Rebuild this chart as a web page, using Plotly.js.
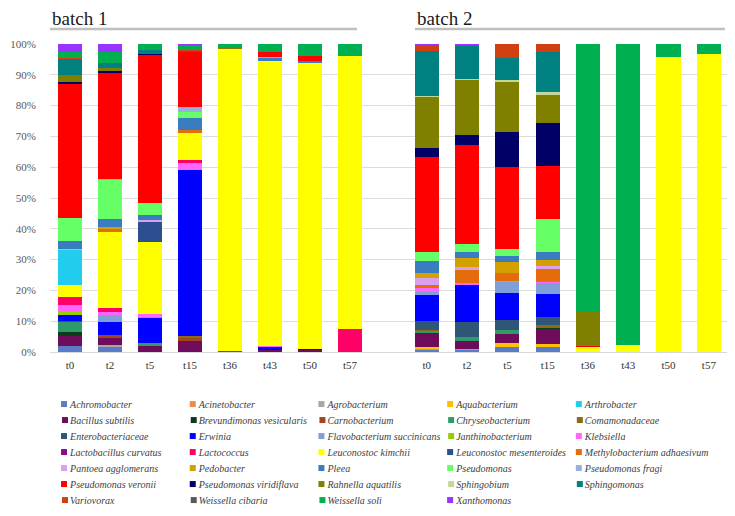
<!DOCTYPE html>
<html><head><meta charset="utf-8">
<script src="https://cdn.plot.ly/plotly-3.0.1.min.js"></script>
<style>html,body{margin:0;padding:0;background:#fff}#chart{width:735px;height:516px}</style>
</head><body><div id="chart"></div>
<script>
// ---- data ----
const timepoints = ['t0','t2','t5','t15','t36','t43','t50','t57'];
const batchNames = ['batch 1','batch 2'];
const speciesNames = ['Achromobacter','Acinetobacter','Agrobacterium','Aquabacterium','Arthrobacter',
 'Bacillus subtilis','Brevundimonas vesicularis','Carnobacterium','Chryseobacterium','Comamonadaceae',
 'Enterobacteriaceae','Erwinia','Flavobacterium succinicans','Janthinobacterium','Klebsiella',
 'Lactobacillus curvatus','Lactococcus','Leuconostoc kimchii','Leuconostoc mesenteroides','Methylobacterium adhaesivum',
 'Pantoea agglomerans','Pedobacter','Pleea','Pseudomonas','Pseudomonas fragi',
 'Pseudomonas veronii','Pseudomonas viridiflava','Rahnella aquatilis','Sphingobium','Sphingomonas',
 'Variovorax','Weissella cibaria','Weissella soli','Xanthomonas'];
const speciesColors = ['#5a7bc6','#f08a4b','#a6a6a6','#ffc000','#22ccee',
 '#6e0b5a','#0d3b1c','#a0461a','#2e9b6b','#8b6b16',
 '#2f5577','#0000ff','#7f9fd6','#99cc00','#ff66ff',
 '#8b0a8b','#ff0066','#ffff00','#2e4f8f','#e46c0a',
 '#d9a0f0','#d4a000','#3a7cc0','#66ff66','#9aaee0',
 '#ff0000','#000066','#808000','#c4d79b','#008080',
 '#d04010','#595959','#00b050','#9933ff'];

// each array: first 8 values = batch 1 (t0..t57), last 8 = batch 2 (t0..t57), in %
const achromobacter   = [2.0,1.6,0,0,0,0,0,0,        0.5,0.5,1.6,1.6,0,0,0,0];
const acinetobacter   = [0,0,0,0,0,0,0,0,            0.5,0.6,0,0,0,0,0,0];
const agrobacterium   = [0,0.6,0,0,0,0,0,0,          0,0,0,0,0,0,0,0];
const aquabacterium   = [0,0,0,0,0,0,0,0,            0.5,0,1.3,1.1,0,0,0,0];
const arthrobacter    = [11.5,0,0,0,0,0,0,0,         0,0,0,0,0,0,0,0];
const bacillus        = [3.3,2.3,2.1,3.7,0,0.5,0.5,0, 4.6,2.4,3.1,4.6,0,0,0,0];
const brevundimonas   = [1.3,0,0,0,0,0,0,0,          0,0,0,0.5,0,0,0,0];
const carnobacterium  = [0,1.0,0,1.0,0,0,0,0,        0,0,0,0,0,0,0,0];
const chryseobacterium= [3.0,0,0.8,0,0,0,0,0,        0.6,1.4,1.0,0,0,0,0,0];
const comamonadaceae  = [0,0,0,0.6,0,0,0,0,          0.5,0,0,1.0,0,0,0,0];
const enterobacteriaceae = [0.4,0,0,0,0,0,0,0,       2.8,4.8,3.3,2.4,0,0,0,0];
const erwinia         = [2.0,4.3,8.0,53.7,0,1.0,0.5,0, 8.5,12.0,9.0,7.5,0,0,0,0];
const flavobacterium  = [0,2.3,0.4,0,0,0,0,0,        1.1,0,3.3,3.5,0,0,0,0];
const janthinobacterium = [1.0,0,0,0,0,0,0,0,        0,0,0,0,0,0,0,0];
const klebsiella      = [2.3,1.0,0.9,2.5,0,0.4,0,0,  1.1,0.6,0.5,0.6,0,0,0,0];
const lactobacillus   = [0,0,0,0,0,0,0,0,            0,0,0,0,0,0,0,0];
const lactococcus     = [2.6,1.3,0,0.8,0.3,0,0,7.4,  0,0,0,0,0,0,0,0];
const leucKimchii     = [3.7,24.8,23.6,8.8,98.0,92.6,92.7,88.6, 0,0,0,0,1.6,2.2,95.9,96.7];
const leucMesenteroides = [0,0,6.4,0,0,0,0,0,        0,0,0,0,0,0,0,0];
const methylobacterium= [0,1.0,0,0.9,0,0,0,0,        1.1,4.2,2.7,4.0,0,0,0,0];
const pantoea         = [0.5,0,0.8,0,0,0,0,0,        2.2,1.1,0,1.1,0,0,0,0];
const pedobacter      = [0,0.6,0,0,0,0,0,0,          1.6,2.8,3.3,2.0,0,0,0,0];
const pleea           = [2.3,2.7,1.5,3.9,0,0.8,0.8,0, 4.1,2.2,2.0,2.6,0,0,0,0];
const pseudomonas     = [7.6,12.5,3.8,1.9,0,0,0,0,   2.8,2.5,2.4,10.6,0,0,0,0];
const psFragi         = [0,0.5,0,1.8,0,0.6,0,0,      0,0,0,0,0,0,0,0];
const psVeronii       = [43.5,34.4,48.1,17.7,0,1.4,1.7,0, 30.8,32.2,26.7,17.1,0.5,0,0,0];
const psViridiflava   = [0.8,0.9,0.5,0,0,0,0,0,      3.0,3.3,11.3,14.0,0,0,0,0];
const rahnella        = [2.2,0.9,0,0,0.3,0,0,0,      16.5,17.6,16.2,9.0,11.0,0,0,0];
const sphingobium     = [0,0,0,0,0,0,0,0,            0.4,0.4,0.8,1.1,0,0,0,0];
const sphingomonas    = [5.0,1.5,1.2,0.3,0,0,0,0,    14.8,10.8,6.9,13.0,0,0,0,0];
const variovorax      = [0.6,0,0,0.5,0,0,0,0,        1.8,0.3,4.7,2.5,0,0,0,0];
const wCibaria        = [0,0,0,0,0,0,0,0,            0,0,0,0,0,0,0,0];
const wSoli           = [1.9,3.6,1.9,1.6,1.4,2.7,3.8,4.0, 0,0,0,0,86.9,97.8,4.1,3.3];
const xanthomonas     = [2.5,2.7,0,0.3,0,0,0,0,      0.4,0.3,0,0,0,0,0,0];

const speciesValues = [achromobacter,acinetobacter,agrobacterium,aquabacterium,arthrobacter,
 bacillus,brevundimonas,carnobacterium,chryseobacterium,comamonadaceae,
 enterobacteriaceae,erwinia,flavobacterium,janthinobacterium,klebsiella,
 lactobacillus,lactococcus,leucKimchii,leucMesenteroides,methylobacterium,
 pantoea,pedobacter,pleea,pseudomonas,psFragi,
 psVeronii,psViridiflava,rahnella,sphingobium,sphingomonas,
 variovorax,wCibaria,wSoli,xanthomonas];

// stacking order (bottom to top) as seen in the picture
const stackOrder = [0,1,2,3,5,6,7,8,9,10,11,12,13,14,15,16,17,4,18,19,20,21,22,23,24,25,26,27,28,29,30,31,32,33];

// ---- traces ----
const traces = [];
stackOrder.forEach(function(k){
  for (let b = 0; b < 2; b++) {
    traces.push({
      type:'bar',
      x: timepoints,
      y: speciesValues[k].slice(b*8, b*8+8),
      xaxis: b ? 'x2' : 'x',
      yaxis: b ? 'y2' : 'y',
      name: speciesNames[k],
      legendgroup: speciesNames[k],
      legendrank: k + 1,
      showlegend: b === 0,
      marker: {color: speciesColors[k], line:{width:0}},
      hoverinfo: 'none'
    });
  }
});

const serif = '"Liberation Serif", "Times New Roman", Times, serif';
const layout = {
  width:735, height:516,
  margin:{l:50, r:8, t:44, b:164, autoexpand:false},
  barmode:'stack', barnorm:'percent', bargap:0.4,
  paper_bgcolor:'#ffffff', plot_bgcolor:'rgba(0,0,0,0)',
  font:{family:serif, color:'#404040'},
  xaxis:{domain:[0,0.4727], range:[-0.5,7.5], type:'category', showline:true, linecolor:'#d9d9d9',
         ticks:'', showgrid:false, tickfont:{family:serif, size:11, color:'#333333'}, ticklabelstandoff:3},
  xaxis2:{domain:[0.4727,1], anchor:'y2', range:[-1.41,7.45], type:'category', showline:true, linecolor:'#d9d9d9',
         ticks:'', showgrid:false, tickfont:{family:serif, size:11, color:'#333333'}, ticklabelstandoff:3},
  yaxis:{range:[0,100], dtick:10, ticksuffix:'%', gridcolor:'#dcdcdc', zeroline:false,
         tickfont:{family:serif, size:11, color:'#595959'}, ticklabelstandoff:13},
  yaxis2:{anchor:'x2', range:[0,100], dtick:10, showticklabels:false, gridcolor:'#dcdcdc', zeroline:false},
  legend:{orientation:'h', x:-0.0295, xanchor:'left', y:-0.1203, yanchor:'top',
          font:{family:serif, size:10, style:'italic', color:'#404040'},
          entrywidth:83.7, entrywidthmode:'pixels', traceorder:'normal', itemwidth:30, tracegroupgap:0},
  annotations:[
    {text:batchNames[0], xref:'paper', yref:'paper', x:0, y:1.084, xanchor:'left', yanchor:'middle', showarrow:false,
     font:{family:serif, size:19, color:'#1a1a1a'}},
    {text:batchNames[1], xref:'paper', yref:'paper', x:0.539, y:1.084, xanchor:'left', yanchor:'middle', showarrow:false,
     font:{family:serif, size:19, color:'#1a1a1a'}}
  ],
  shapes:[
    {type:'line', xref:'paper', yref:'paper', x0:0, x1:0.4535, y0:1.0487, y1:1.0487, line:{color:'#bfbfbf', width:2.5}},
    {type:'line', xref:'paper', yref:'paper', x0:0.539, x1:0.997, y0:1.0487, y1:1.0487, line:{color:'#bfbfbf', width:2.5}}
  ]
};

Plotly.newPlot('chart', traces, layout, {staticPlot:true, displayModeBar:false}).then(function(gd){
  try {
    gd.querySelectorAll('.legend [clip-path]').forEach(function(el){ el.removeAttribute('clip-path'); });
    const items = Array.from(gd.querySelectorAll('.legend .traces'));
    const parsed = items.map(function(it){
      const m = /translate\(\s*([-\d.e]+)[ ,]+([-\d.e]+)\s*\)/.exec(it.getAttribute('transform') || '');
      return m ? {el:it, x:parseFloat(m[1]), y:parseFloat(m[2])} : null;
    }).filter(Boolean);
    const ys = Array.from(new Set(parsed.map(p => Math.round(p.y)))).sort((a,b)=>a-b);
    parsed.forEach(function(p){
      const row = ys.indexOf(Math.round(p.y));
      p.el.setAttribute('transform', 'translate(' + p.x + ',' + (ys[0] + row*16) + ')');
    });
    items.forEach(function(g){
      const t = g.querySelector('text.legendtext');
      const p = g.querySelector('.legendpoints path');
      if (!t || !p) return;
      const tb = t.getBoundingClientRect(), pb = p.getBoundingClientRect();
      const dx = (tb.left - 5) - (pb.left + pb.right)/2;
      p.setAttribute('d', 'M3,3H-3V-3H3Z');
      p.setAttribute('transform', (p.getAttribute('transform') || '') + ' translate(' + dx + ',0)');
    });
  } catch(e) {}
});
</script>
</body></html>
